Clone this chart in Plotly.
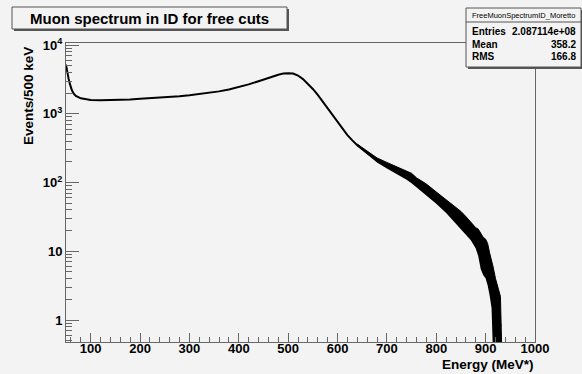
import plotly.graph_objects as go

# Muon energy spectrum (counts per 500 keV bin), sampled along the histogram
energy = [50, 52, 55, 58, 62, 66, 70, 80, 90, 100, 120, 140, 160, 180, 200, 220, 240,
          260, 280, 300, 320, 340, 360, 380, 400, 420, 440, 460, 480, 490, 500, 510,
          520, 530, 540, 550, 560, 570, 580, 590, 600, 610, 620, 630, 640, 660, 680,
          700, 720, 740, 760, 780, 800, 820, 840, 860, 870, 880, 890, 900, 905, 910,
          915, 920, 925, 930]
counts = [5200, 4200, 3300, 2700, 2200, 1950, 1820, 1680, 1620, 1590, 1580, 1580, 1600,
          1620, 1650, 1680, 1710, 1750, 1800, 1860, 1930, 2010, 2120, 2260, 2450, 2680,
          2980, 3350, 3700, 3850, 3900, 3850, 3600, 3200, 2750, 2300, 1880, 1500, 1200,
          950, 760, 610, 490, 410, 350, 270, 212, 178, 152, 128, 100, 80, 60, 45, 33,
          24.5, 20, 16, 12.5, 8.5, 7, 4.8, 3.2, 2.2, 1.5, 0.8]

# Envelope of the bin-to-bin fluctuations in the high-energy tail
band_energy = [640, 660, 680, 700, 720, 740, 750, 760, 780, 800, 820, 840, 850, 860,
               870, 880, 885, 890, 895, 900, 904, 908, 912, 915, 920, 925, 930, 933]
band_hi = [362, 285, 228, 196, 170, 150, 136, 117, 95, 73, 56, 43, 38, 32, 27, 22, 21,
           18, 16, 15, 13, 9.5, 7.5, 6, 4, 3, 2.2, 0.3]
band_lo = [338, 255, 196, 160, 134, 110, 98, 85, 66, 49, 36, 25, 21, 18, 14.5, 11, 8.5,
           5.5, 4.5, 4, 3.2, 2.3, 1.5, 0.3, 0.3, 0.3, 0.3, 0.3]

y_tickvals = [1, 10, 100, 1000, 10000]
y_ticktext = ["1", "10", "10<sup>2</sup>", "10<sup>3</sup>", "10<sup>4</sup>"]
y_minor = [m * d for d in (0.1, 1, 10, 100, 1000) for m in range(2, 10)]

stats_name = "FreeMuonSpectrumID_Moretto"
stats_rows = [("Entries", "2.087114e+08"), ("Mean", "358.2"), ("RMS", "166.8")]

W, H = 582, 374
L, R, T, B = 66, 535, 43, 342
BG = "#f3f3f3"
FRAME = "#666666"
FONT = "Liberation Sans"


def px(x):
    return (x - L) / (R - L)


def py(y):
    return (B - y) / (B - T)


fig = go.Figure()
fig.add_trace(go.Scatter(x=band_energy, y=band_lo, mode="lines",
                         line=dict(width=0, color="black"), hoverinfo="skip"))
fig.add_trace(go.Scatter(x=band_energy, y=band_hi, mode="lines", fill="tonexty",
                         fillcolor="black", line=dict(width=1, color="black"),
                         hoverinfo="skip"))
fig.add_trace(go.Scatter(x=energy, y=counts, mode="lines",
                         line=dict(width=2, color="black")))

shapes = []


def pave(x0, y0, x1, y1):
    # box with a drop shadow to the lower right
    shapes.append(dict(type="rect", xref="paper", yref="paper",
                       x0=px(x0 + 2), x1=px(x1 + 2), y0=py(y1 + 2), y1=py(y0 + 2),
                       fillcolor="#555555", line=dict(width=0), layer="above"))
    shapes.append(dict(type="rect", xref="paper", yref="paper",
                       x0=px(x0), x1=px(x1), y0=py(y1), y1=py(y0),
                       fillcolor=BG, line=dict(width=1, color="#555555"), layer="above"))


pave(12, 7, 287, 29)
pave(466, 8, 581, 67)
shapes.append(dict(type="line", xref="paper", yref="paper",
                   x0=px(466), x1=px(581), y0=py(22), y1=py(22),
                   line=dict(width=1, color="#555555"), layer="above"))

ann = []
ann.append(dict(text="<b>Muon spectrum in ID for free cuts</b>", x=px(149.5), y=py(18),
                xref="paper", yref="paper", showarrow=False, xanchor="center",
                yanchor="middle", font=dict(family=FONT, size=15, color="black")))
ann.append(dict(text=stats_name, x=px(523.5), y=py(15), xref="paper", yref="paper",
                showarrow=False, xanchor="center", yanchor="middle",
                font=dict(family=FONT, size=7.5, color="black")))
for i, (k, v) in enumerate(stats_rows):
    yy = 31 + 13 * i
    ann.append(dict(text="<b>%s</b>" % k, x=px(470), y=py(yy), xref="paper", yref="paper",
                    showarrow=False, xanchor="left", yanchor="middle",
                    font=dict(family=FONT, size=10, color="black")))
    ann.append(dict(text="<b>%s</b>" % v, x=px(578), y=py(yy), xref="paper", yref="paper",
                    showarrow=False, xanchor="right", yanchor="middle",
                    font=dict(family=FONT, size=10, color="black")))
ann.append(dict(text="<b>Energy (MeV*)</b>", x=px(536), y=py(364), xref="paper",
                yref="paper", showarrow=False, xanchor="right", yanchor="middle",
                font=dict(family=FONT, size=13.5, color="black")))
ann.append(dict(text="<b>Events/500 keV</b>", x=px(28), y=py(45), xref="paper",
                yref="paper", showarrow=False, xanchor="center", yanchor="top",
                textangle=-90, font=dict(family=FONT, size=13.5, color="black")))

fig.update_layout(
    width=W, height=H,
    margin=dict(l=L, r=W - R, t=T, b=H - B, pad=0),
    paper_bgcolor=BG, plot_bgcolor=BG,
    showlegend=False,
    shapes=shapes, annotations=ann,
    xaxis=dict(range=[50, 1000], tick0=0, dtick=100, ticks="inside", ticklen=9,
               tickcolor=FRAME, showline=True, mirror=True, linecolor=FRAME,
               linewidth=1, showgrid=False, zeroline=False, automargin=False,
               ticklabelstandoff=-6,
               tickfont=dict(family=FONT, size=13, color="black", weight="bold"),
               minor=dict(dtick=20, tick0=0, ticks="inside", ticklen=5,
                          tickcolor=FRAME, showgrid=False)),
    yaxis=dict(type="log", range=[-0.32, 4.03], tickmode="array", tickvals=y_tickvals,
               ticktext=y_ticktext, ticks="inside", ticklen=13, tickcolor=FRAME,
               showline=True, mirror=True, linecolor=FRAME, linewidth=1,
               showgrid=False, zeroline=False, automargin=False,
               tickfont=dict(family=FONT, size=13, color="black", weight="bold"),
               minor=dict(tickmode="array", tickvals=y_minor, ticks="inside",
                          ticklen=6, tickcolor=FRAME, showgrid=False)),
)

fig.write_html("out.html", config={"displayModeBar": False})
